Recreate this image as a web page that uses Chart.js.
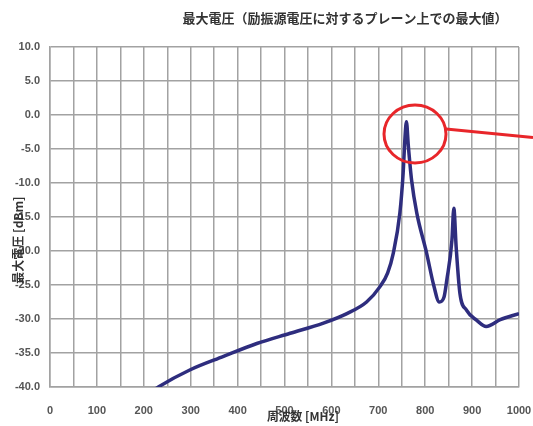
<!DOCTYPE html>
<html lang="ja">
<head>
  <meta charset="utf-8">
  <title>最大電圧</title>
  <script src="https://cdn.jsdelivr.net/npm/chart.js@4.4.1/dist/chart.umd.min.js"></script>
  <style>
    html, body { margin: 0; padding: 0; background: #fff; }
    #wrap { width: 533px; height: 426px; }
    #voltChart { filter: blur(0.5px); }
  </style>
</head>
<body>
  <div id="wrap"><canvas id="voltChart" width="533" height="426"></canvas></div>
  <script>
    // 周波数 [MHz] と最大電圧 [dBm]
    const freqMHz = [200, 231, 298, 370, 441, 512, 583, 633, 675, 704, 720, 732, 746, 753, 757, 760,
                     764, 771, 782, 803, 818, 830, 840, 846, 857, 861, 866, 874, 888, 910, 930, 960, 1000];
    const maxVoltage = [-41.5, -40.0, -37.5, -35.5, -33.6, -32.1, -30.6, -29.2, -27.5, -25.2, -23.2, -20.3, -14.4, -8.5, -3.2, -1.0,
                        -4.5, -9.6, -14.4, -20.3, -25.0, -27.5, -26.8, -24.3, -18.4, -13.7, -19.4, -26.2, -28.7, -30.2, -31.1, -30.1, -29.2];

    const xTicks = [0, 100, 200, 300, 400, 500, 600, 700, 800, 900, 1000];
    const yTicks = [10, 5, 0, -5, -10, -15, -20, -25, -30, -35, -40];

    const chartTitle = '最大電圧（励振源電圧に対するプレーン上での最大値）';
    const xTitle = '周波数 [MHz]';
    const yTitle = '最大電圧 [dBm]';

    const gridColor = '#a2a2a2';
    const jpFont = '"Noto Sans CJK JP", "Noto Sans", sans-serif';
    const tickFont = { family: '"Liberation Sans", Arial, sans-serif', size: 11, weight: 'bold' };

    // タイトル・軸名・赤丸の注記
    const overlay = {
      id: 'overlay',
      afterDraw(chart) {
        const c = chart.ctx;
        c.save();
        c.fillStyle = '#333';
        c.textBaseline = 'middle';
        c.textAlign = 'center';
        c.font = 'bold 13px ' + jpFont;
        c.fillText(chartTitle, 345, 18, 344);

        c.font = 'bold 12px ' + jpFont;
        c.fillText(xTitle, 303, 416, 72);

        c.translate(18, 240);
        c.rotate(-Math.PI / 2);
        c.fillText(yTitle, 0, 0, 112);
        c.restore();

        c.save();
        c.strokeStyle = '#e8262a';
        c.lineWidth = 3;
        c.beginPath();
        c.ellipse(415, 134, 31, 29, 0, 0, Math.PI * 2);
        c.stroke();
        c.beginPath();
        c.moveTo(446, 129);
        c.lineTo(533, 137.5);
        c.stroke();
        c.restore();
      }
    };

    new Chart(document.getElementById('voltChart'), {
      type: 'line',
      data: {
        datasets: [{
          data: freqMHz.map((f, i) => ({ x: f, y: maxVoltage[i] })),
          borderColor: '#2e2d7e',
          borderWidth: 3.5,
          pointRadius: 0,
          cubicInterpolationMode: 'monotone',
          fill: false
        }]
      },
      options: {
        responsive: false,
        animation: false,
        layout: { padding: { left: 0, right: 14, top: 47, bottom: 0 } },
        plugins: {
          legend: { display: false },
          title: { display: false },
          tooltip: { enabled: false }
        },
        scales: {
          x: {
            type: 'linear',
            min: 0,
            max: 1000,
            afterFit(scale) {
              scale.height = 39;
              scale.paddingLeft = 0;
              scale.paddingRight = 0;
            },
            afterBuildTicks(scale) {
              scale.ticks = [];
              for (let v = 0; v <= 1000; v += 50) scale.ticks.push({ value: v });
            },
            grid: { color: gridColor, lineWidth: 1.5, drawTicks: false },
            border: { color: gridColor, width: 1.5 },
            ticks: {
              autoSkip: false,
              maxRotation: 0,
              padding: 17,
              color: '#555',
              font: tickFont,
              callback: v => xTicks.includes(v) ? String(v) : ''
            }
          },
          y: {
            min: -40,
            max: 10,
            afterFit(scale) {
              scale.width = 50;
              scale.paddingTop = 0;
              scale.paddingBottom = 0;
            },
            afterBuildTicks(scale) {
              scale.ticks = yTicks.map(v => ({ value: v }));
            },
            grid: { color: gridColor, lineWidth: 1.5, drawTicks: false },
            border: { color: gridColor, width: 1.5 },
            ticks: {
              padding: 10,
              color: '#555',
              font: tickFont,
              callback: v => v.toFixed(1)
            }
          }
        }
      },
      plugins: [overlay]
    });
  </script>
</body>
</html>
